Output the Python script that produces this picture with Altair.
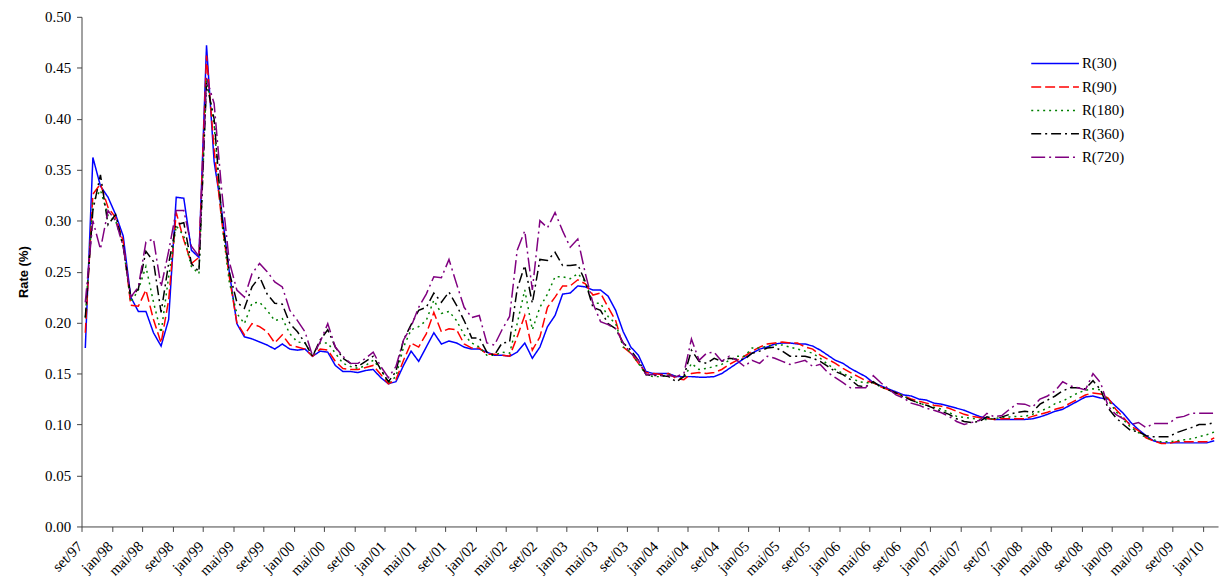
import altair as alt
import pandas as pd

month_names = ["jan", "fev", "mar", "abr", "mai", "jun", "jul", "ago", "set", "out", "nov", "dez"]

tick_labels = ["set/97", "jan/98", "mai/98", "set/98", "jan/99", "mai/99", "set/99", "jan/00",
               "mai/00", "set/00", "jan/01", "mai/01", "set/01", "jan/02", "mai/02", "set/02",
               "jan/03", "mai/03", "set/03", "jan/04", "mai/04", "set/04", "jan/05", "mai/05",
               "set/05", "jan/06", "mai/06", "set/06", "jan/07", "mai/07", "set/07", "jan/08",
               "mai/08", "set/08", "jan/09", "mai/09", "set/09", "jan/10"]

y_ticks = [0.00, 0.05, 0.10, 0.15, 0.20, 0.25, 0.30, 0.35, 0.40, 0.45, 0.50]

series_names = ["R(30)", "R(90)", "R(180)", "R(360)", "R(720)"]

r30 = [0.175, 0.362, 0.334, 0.323, 0.306, 0.285, 0.225, 0.211, 0.211, 0.190,
       0.177, 0.203, 0.323, 0.322, 0.271, 0.264, 0.472, 0.358, 0.310, 0.250,
       0.199, 0.186, 0.184, 0.181, 0.178, 0.174, 0.179, 0.174, 0.173, 0.174,
       0.167, 0.172, 0.171, 0.158, 0.152, 0.152, 0.151, 0.153, 0.154, 0.146,
       0.140, 0.142, 0.158, 0.172, 0.162, 0.176, 0.190, 0.179, 0.182, 0.180,
       0.176, 0.174, 0.174, 0.171, 0.168, 0.168, 0.167, 0.171, 0.180, 0.165,
       0.176, 0.196, 0.207, 0.228, 0.229, 0.236, 0.235, 0.232, 0.232, 0.226,
       0.212, 0.191, 0.176, 0.168, 0.152, 0.150, 0.150, 0.150, 0.147, 0.147,
       0.147, 0.1465, 0.1465, 0.147, 0.150, 0.155, 0.160, 0.165, 0.170, 0.174,
       0.176, 0.179, 0.180, 0.180, 0.179, 0.179, 0.177, 0.173, 0.168, 0.163,
       0.160, 0.155, 0.151, 0.147, 0.141, 0.138, 0.135, 0.132, 0.129, 0.128,
       0.125, 0.124, 0.121, 0.120, 0.118, 0.116, 0.114, 0.111, 0.108, 0.106,
       0.105, 0.105, 0.105, 0.105, 0.105, 0.1056, 0.1075, 0.110, 0.113, 0.115,
       0.119, 0.123, 0.127, 0.128, 0.126, 0.125, 0.118, 0.111, 0.102, 0.095,
       0.089, 0.084, 0.082, 0.082, 0.082, 0.082, 0.082, 0.082, 0.082, 0.084]

r90 = [0.190, 0.326, 0.336, 0.313, 0.303, 0.280, 0.217, 0.216, 0.232, 0.203,
       0.180, 0.222, 0.308, 0.281, 0.258, 0.264, 0.462, 0.370, 0.300, 0.245,
       0.200, 0.188, 0.199, 0.196, 0.191, 0.180, 0.188, 0.178, 0.176, 0.174,
       0.167, 0.174, 0.173, 0.162, 0.155, 0.154, 0.154, 0.156, 0.158, 0.149,
       0.140, 0.144, 0.163, 0.180, 0.176, 0.189, 0.210, 0.191, 0.194, 0.193,
       0.179, 0.175, 0.175, 0.169, 0.169, 0.168, 0.167, 0.186, 0.207, 0.173,
       0.186, 0.215, 0.225, 0.236, 0.236, 0.242, 0.238, 0.227, 0.229, 0.215,
       0.202, 0.176, 0.170, 0.160, 0.151, 0.150, 0.149, 0.150, 0.145, 0.144,
       0.150, 0.151, 0.150, 0.151, 0.154, 0.159, 0.163, 0.167, 0.172, 0.176,
       0.179, 0.180, 0.181, 0.180, 0.180, 0.176, 0.174, 0.168, 0.164, 0.160,
       0.155, 0.151, 0.147, 0.143, 0.141, 0.137, 0.134, 0.131, 0.128, 0.125,
       0.123, 0.121, 0.119, 0.118, 0.116, 0.113, 0.110, 0.108, 0.107, 0.106,
       0.105, 0.1056, 0.1056, 0.1056, 0.1056, 0.108, 0.110, 0.112, 0.115, 0.117,
       0.121, 0.125, 0.129, 0.131, 0.130, 0.126, 0.115, 0.107, 0.0985, 0.094,
       0.087, 0.084, 0.0815, 0.0815, 0.083, 0.083, 0.083, 0.083, 0.083, 0.087]

r180 = [0.205, 0.318, 0.330, 0.305, 0.300, 0.275, 0.220, 0.232, 0.255, 0.220,
        0.190, 0.245, 0.295, 0.285, 0.255, 0.248, 0.440, 0.395, 0.300, 0.240,
        0.209, 0.199, 0.219, 0.220, 0.212, 0.202, 0.204, 0.189, 0.181, 0.180,
        0.167, 0.180, 0.180, 0.170, 0.160, 0.157, 0.155, 0.158, 0.163, 0.154,
        0.141, 0.147, 0.176, 0.193, 0.196, 0.202, 0.222, 0.209, 0.211, 0.202,
        0.188, 0.180, 0.176, 0.168, 0.168, 0.171, 0.170, 0.199, 0.232, 0.193,
        0.215, 0.228, 0.245, 0.245, 0.243, 0.248, 0.240, 0.219, 0.219, 0.206,
        0.199, 0.176, 0.171, 0.160, 0.149, 0.147, 0.147, 0.149, 0.147, 0.145,
        0.160, 0.154, 0.155, 0.157, 0.159, 0.163, 0.167, 0.167, 0.175, 0.175,
        0.177, 0.178, 0.178, 0.176, 0.174, 0.172, 0.170, 0.165, 0.159, 0.154,
        0.150, 0.147, 0.142, 0.141, 0.141, 0.137, 0.134, 0.131, 0.128, 0.124,
        0.121, 0.119, 0.117, 0.115, 0.112, 0.108, 0.107, 0.106, 0.105, 0.105,
        0.106, 0.107, 0.1075, 0.108, 0.108, 0.110, 0.113, 0.116, 0.1205, 0.123,
        0.127, 0.131, 0.1335, 0.135, 0.134, 0.124, 0.113, 0.105, 0.097, 0.092,
        0.087, 0.085, 0.083, 0.083, 0.084, 0.085, 0.086, 0.088, 0.090, 0.0926]

r360 = [0.205, 0.310, 0.345, 0.296, 0.306, 0.275, 0.225, 0.233, 0.270, 0.260,
        0.210, 0.258, 0.296, 0.298, 0.258, 0.250, 0.435, 0.400, 0.305, 0.250,
        0.220, 0.214, 0.235, 0.245, 0.228, 0.219, 0.218, 0.199, 0.191, 0.180,
        0.167, 0.183, 0.193, 0.176, 0.165, 0.160, 0.157, 0.162, 0.167, 0.154,
        0.142, 0.152, 0.183, 0.198, 0.212, 0.215, 0.229, 0.220, 0.230, 0.217,
        0.202, 0.185, 0.185, 0.171, 0.168, 0.180, 0.181, 0.233, 0.256, 0.219,
        0.262, 0.261, 0.269, 0.256, 0.256, 0.257, 0.240, 0.215, 0.212, 0.199,
        0.194, 0.180, 0.173, 0.163, 0.149, 0.148, 0.148, 0.147, 0.142, 0.147,
        0.173, 0.162, 0.160, 0.165, 0.162, 0.165, 0.164, 0.164, 0.170, 0.172,
        0.175, 0.176, 0.172, 0.167, 0.167, 0.167, 0.165, 0.162, 0.157, 0.152,
        0.149, 0.144, 0.138, 0.137, 0.142, 0.137, 0.134, 0.131, 0.127, 0.124,
        0.121, 0.119, 0.116, 0.113, 0.110, 0.1056, 0.103, 0.102, 0.103, 0.1075,
        0.1056, 0.1075, 0.110, 0.112, 0.113, 0.112, 0.120, 0.124, 0.128, 0.133,
        0.136, 0.136, 0.135, 0.143, 0.134, 0.116, 0.107, 0.100, 0.094, 0.093,
        0.089, 0.088, 0.088, 0.088, 0.092, 0.0945, 0.097, 0.100, 0.100, 0.102]

r720 = [0.220, 0.300, 0.272, 0.310, 0.300, 0.275, 0.225, 0.235, 0.279, 0.282,
        0.235, 0.270, 0.310, 0.310, 0.275, 0.265, 0.440, 0.415, 0.330, 0.260,
        0.232, 0.225, 0.248, 0.258, 0.250, 0.240, 0.235, 0.212, 0.202, 0.191,
        0.167, 0.181, 0.199, 0.176, 0.167, 0.160, 0.160, 0.165, 0.171, 0.157,
        0.146, 0.157, 0.183, 0.196, 0.215, 0.228, 0.245, 0.244, 0.262, 0.238,
        0.215, 0.205, 0.207, 0.180, 0.178, 0.193, 0.206, 0.271, 0.290, 0.232,
        0.300, 0.293, 0.308, 0.290, 0.274, 0.282, 0.248, 0.219, 0.201, 0.198,
        0.194, 0.180, 0.170, 0.163, 0.149, 0.149, 0.148, 0.148, 0.147, 0.150,
        0.184, 0.163, 0.170, 0.171, 0.162, 0.167, 0.163, 0.157, 0.163, 0.160,
        0.167, 0.165, 0.162, 0.159, 0.161, 0.163, 0.157, 0.159, 0.151, 0.146,
        0.141, 0.136, 0.136, 0.136, 0.148, 0.141, 0.135, 0.129, 0.126, 0.121,
        0.119, 0.116, 0.114, 0.1115, 0.108, 0.103, 0.100, 0.102, 0.104, 0.111,
        0.1075, 0.109, 0.115, 0.1205, 0.120, 0.117, 0.125, 0.128, 0.133, 0.142,
        0.138, 0.136, 0.134, 0.150, 0.141, 0.118, 0.110, 0.1056, 0.100, 0.102,
        0.097, 0.101, 0.101, 0.101, 0.1066, 0.108, 0.111, 0.111, 0.111, 0.111]

colors = ["#0000FF", "#FF0000", "#008000", "#000000", "#800080"]
dashes = [[1, 0], [10, 4], [2, 4], [10, 4, 2, 4], [14, 4, 2, 4]]

rows = []
for name, vals in zip(series_names, [r30, r90, r180, r360, r720]):
    for i, v in enumerate(vals):
        m = (8 + i) % 12
        yr = 1997 + (8 + i) // 12
        rows.append({"idx": i, "month": f"{month_names[m]}/{yr % 100:02d}",
                     "series": name, "order": series_names.index(name), "rate": v})
df = pd.DataFrame(rows)

n = len(r30)
tick_vals = [-0.5 + 4 * k for k in range(len(tick_labels))]
label_expr = "[" + ",".join(f"'{t}'" for t in tick_labels) + "][round((datum.value + 0.5) / 4)]"

chart = alt.Chart(df).mark_line(strokeWidth=1.5).encode(
    x=alt.X("idx:Q",
            scale=alt.Scale(domain=[-0.5, n - 0.5], nice=False, zero=False),
            axis=alt.Axis(values=tick_vals, labelExpr=label_expr, labelAngle=-45,
                          labelAlign="right", labelBaseline="middle", title=None,
                          grid=False, tickSize=5, labelPadding=12, labelOffset=-2,
                          labelFont="Liberation Serif", labelFontSize=15,
                          labelColor="#000000", domainColor="#444444", tickColor="#444444",
                          labelOverlap=False, labelFlush=False)),
    y=alt.Y("rate:Q",
            scale=alt.Scale(domain=[0, 0.5], nice=False),
            axis=alt.Axis(values=y_ticks, format=".2f", title="Rate (%)", grid=False,
                          tickSize=5, labelPadding=6, labelFont="Liberation Serif",
                          labelFontSize=15, labelColor="#000000", domainColor="#444444",
                          tickColor="#444444", titleFont="Liberation Sans",
                          titleFontSize=13, titleFontWeight="bold", titleColor="#000000",
                          titlePadding=14)),
    color=alt.Color("series:N", scale=alt.Scale(domain=series_names, range=colors),
                    title=None),
    strokeDash=alt.StrokeDash("series:N", scale=alt.Scale(domain=series_names, range=dashes),
                              title=None),
    order=alt.Order("order:Q"),
).properties(
    width=1144,
    height=513,
    autosize=alt.AutoSizeParams(type="none"),
    padding={"left": 74, "top": 7, "right": 3, "bottom": 50},
).configure_view(
    strokeWidth=0
).configure_legend(
    orient="none", legendX=955, legendY=34, symbolType="M-1,0H3", symbolSize=576,
    symbolStrokeWidth=1.5, labelFont="Liberation Serif", labelFontSize=15,
    labelColor="#000000", labelOffset=26, rowPadding=2.6, padding=0
)

chart.save("out.html", embed_options={"renderer": "svg", "actions": False})
